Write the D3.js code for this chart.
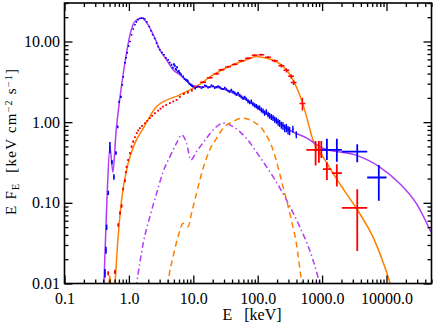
<!DOCTYPE html>
<html>
<head>
<meta charset="utf-8">
<script src="https://cdn.jsdelivr.net/npm/d3@7"></script>
<style>
body { margin: 0; background: #fff; }
svg text { font-family: "Liberation Serif", "Times New Roman", serif; fill: #000; }
</style>
</head>
<body>
<svg id="chart" width="436" height="327"></svg>
<script>
// axis ranges and ticks
const xDomain = [0.1, 50000]
const yDomain = [0.01, 30]
const xMajor = [0.1, 1, 10, 100, 1000, 10000]
const xLabels = ['0.1', '1.0', '10.0', '100.0', '1000.0', '10000.0']
const yMajor = [0.01, 0.1, 1, 10]
const yLabels = ['0.01', '0.10', '1.00', '10.00']

// model curves [E keV, E F_E]
const modelPurple = [
  [0.40, 0.006], [0.41, 0.0102], [0.456, 0.109], [0.507, 0.49], [0.565, 0.24], [0.63, 0.74],
  [0.725, 2.0], [0.867, 5.45], [1.04, 12.1], [1.24, 17.7], [1.57, 19.5], [1.99, 16.1],
  [2.53, 11.0], [3.02, 7.9], [3.84, 5.93], [4.86, 4.46], [6.17, 3.87], [7.82, 3.25],
  [9.9, 2.82], [12.6, 2.74], [20, 2.74], [36.8, 2.4], [66.8, 1.89], [120, 1.35],
  [219, 0.98], [349, 0.76], [569, 0.64], [1030, 0.475], [3390, 0.39], [7780, 0.28],
  [15850, 0.175], [28700, 0.0998], [49000, 0.0435]
]
const modelOrange = [
  [0.59, 0.008], [0.607, 0.01], [0.675, 0.035], [0.77, 0.109], [0.975, 0.31], [1.24, 0.55],
  [1.67, 0.84], [2.69, 1.56], [6.17, 2.18], [11.2, 2.77], [20.3, 3.86], [41.4, 5.14],
  [66.8, 5.93], [95.5, 6.51], [136, 6.22], [195, 5.65], [279, 4.46], [353, 3.35],
  [448, 2.18], [535, 1.42], [640, 0.84], [720, 0.60], [1030, 0.374], [1470, 0.233],
  [2370, 0.131], [3810, 0.0743], [6130, 0.0381], [11400, 0.01], [13000, 0.007]
]
const modelOrangeEdge = [[0.48, 0.008], [0.505, 0.0125], [0.53, 0.008]]
const compPurple = [
  [1.2, 0.006], [1.32, 0.01], [1.67, 0.0316], [2.12, 0.0675], [2.69, 0.131], [3.41, 0.244],
  [4.33, 0.374], [5.5, 0.55], [6.57, 0.695], [7.85, 0.55], [9.15, 0.34], [11.2, 0.43],
  [16.0, 0.63], [21.5, 0.84], [29, 0.97], [41.4, 0.88], [66.8, 0.63], [107, 0.374],
  [173, 0.211], [279, 0.109], [448, 0.0507], [640, 0.026], [861, 0.0121], [931, 0.0095]
]
const compOrange = [
  [3.9, 0.007], [4.07, 0.01], [4.86, 0.0215], [5.81, 0.0381], [6.95, 0.0558], [8.3, 0.0507],
  [9.38, 0.0743], [11.2, 0.131], [14.2, 0.268], [18.0, 0.453], [22.9, 0.63], [29, 0.84],
  [41.4, 1.02], [59.2, 1.12], [84.5, 1.02], [121, 0.80], [173, 0.453], [247, 0.159],
  [333, 0.0614], [398, 0.0316], [476, 0.011], [490, 0.0093]
]

// data points [E, E F_E, fractional error]
const blueSoft = [
  [0.425, 0.0135, 0.12], [0.44, 0.026, 0.1], [0.451, 0.050, 0.08], [0.478, 0.133, 0.06],
  [0.507, 0.49, 0.16], [0.545, 0.32, 0.06], [0.585, 0.21, 0.08], [0.63, 0.416, 0.05],
  [0.668, 0.875, 0.04], [0.707, 1.79, 0.03], [0.751, 2.06, 0.03], [0.79, 2.9, 0.02],
  [0.817, 3.65, 0.02], [0.867, 5.45, 0.02], [0.9, 6.3, 0.02], [0.941, 7.24, 0.02],
  [0.99, 8.8, 0.02], [1.04, 10.0, 0.015], [1.1, 12.1, 0.015], [1.17, 14.3, 0.015],
  [1.24, 16.1, 0.015], [1.31, 17.5, 0.015], [1.39, 18.6, 0.015], [1.48, 19.3, 0.015],
  [1.57, 19.5, 0.015], [1.67, 19.4, 0.015], [1.77, 19.0, 0.015], [1.9, 17.6, 0.015],
  [2.07, 15.3, 0.015], [2.2, 13.6, 0.015], [2.33, 12.1, 0.015], [2.5, 10.9, 0.015],
  [2.69, 9.55, 0.015], [2.85, 8.6, 0.015], [3.02, 7.9, 0.015], [3.25, 7.3, 0.02],
  [3.49, 6.84, 0.02], [3.75, 6.3, 0.02], [4.07, 5.93, 0.02], [4.3, 5.5, 0.02],
  [4.59, 5.14, 0.03], [4.81, 4.72, 0.03], [5.0, 5.2, 0.03], [5.17, 5.0, 0.03],
  [5.3, 4.6, 0.03], [5.45, 4.46, 0.03], [5.6, 4.8, 0.03], [5.75, 4.21, 0.03],
  [5.95, 4.3, 0.03], [6.17, 4.06, 0.03], [6.5, 3.9, 0.03], [6.95, 3.68, 0.03],
  [7.3, 3.45, 0.03], [7.65, 3.35, 0.03], [8.0, 3.3, 0.03], [8.3, 3.19, 0.03],
  [8.7, 3.0, 0.03], [9.15, 2.9, 0.03], [9.5, 2.84, 0.03], [9.9, 2.77, 0.03], [10.7, 2.62, 0.03]
]
const blueHard = [
  [11.3, 2.70, 0.02], [12.0, 2.78, 0.02], [12.6, 2.74, 0.02], [13.4, 2.64, 0.02],
  [14.2, 2.70, 0.02], [15.1, 2.85, 0.025], [16.0, 2.80, 0.025], [17.0, 2.68, 0.025],
  [18.0, 2.74, 0.025], [19.1, 2.86, 0.025], [20.3, 2.80, 0.025], [21.5, 2.66, 0.03],
  [22.9, 2.72, 0.03], [24.3, 2.78, 0.03], [25.8, 2.70, 0.03], [27.4, 2.60, 0.03],
  [29.0, 2.58, 0.03], [30.8, 2.66, 0.035], [32.7, 2.55, 0.035], [34.7, 2.44, 0.035],
  [36.8, 2.40, 0.035], [39.0, 2.50, 0.04], [41.4, 2.38, 0.04], [44.0, 2.30, 0.04],
  [46.6, 2.20, 0.04], [49.5, 2.28, 0.045], [52.6, 2.15, 0.045], [55.8, 2.06, 0.045],
  [59.2, 1.98, 0.05], [62.9, 2.02, 0.05], [66.8, 1.92, 0.05], [70.9, 1.82, 0.055],
  [75.2, 1.76, 0.055], [79.8, 1.80, 0.06], [84.5, 1.68, 0.06], [89.9, 1.62, 0.06],
  [95.5, 1.58, 0.065], [101, 1.52, 0.065], [107, 1.50, 0.07], [114, 1.42, 0.07],
  [121, 1.38, 0.07], [128, 1.30, 0.075], [136, 1.34, 0.075], [145, 1.25, 0.08],
  [153, 1.20, 0.08], [163, 1.16, 0.085], [173, 1.13, 0.085], [184, 1.08, 0.09],
  [195, 1.05, 0.09], [207, 1.00, 0.1], [219, 0.97, 0.1], [233, 0.92, 0.1],
  [247, 0.90, 0.11], [263, 0.84, 0.11], [279, 0.85, 0.12], [296, 0.80, 0.12],
  [313, 0.78, 0.12], [352, 0.82, 0.1], [398, 0.70, 0.1]
]
const redSoft = [
  [0.478, 0.0134, 0.06], [0.607, 0.014, 0.06], [0.683, 0.0532, 0.05], [0.73, 0.075, 0.05],
  [0.77, 0.0916, 0.05], [0.817, 0.148, 0.04], [0.867, 0.188, 0.04], [0.9, 0.24, 0.03],
  [0.921, 0.279, 0.03], [0.975, 0.34, 0.03], [1.04, 0.412, 0.03], [1.1, 0.498, 0.03],
  [1.17, 0.574, 0.03], [1.24, 0.65, 0.02], [1.32, 0.731, 0.02], [1.4, 0.79, 0.02],
  [1.48, 0.84, 0.02], [1.6, 0.9, 0.02], [1.77, 0.97, 0.02], [1.93, 1.04, 0.02],
  [2.12, 1.12, 0.02], [2.3, 1.2, 0.02], [2.53, 1.29, 0.02], [2.85, 1.39, 0.02],
  [3.1, 1.47, 0.02], [3.4, 1.56, 0.02], [3.8, 1.63, 0.02], [4.33, 1.72, 0.02],
  [4.9, 1.8, 0.02], [5.5, 1.89, 0.02], [6.17, 2.06, 0.02], [7.12, 2.24, 0.03],
  [8.22, 2.34, 0.03], [9.48, 2.48, 0.03]
]
const redHard = [
  [11.2, 2.74, 0.03], [14.2, 3.12, 0.03], [18.0, 3.55, 0.03], [22.9, 3.97, 0.03],
  [27.4, 4.46, 0.03], [34.6, 4.85, 0.03], [44, 5.21, 0.03], [55.8, 5.77, 0.03],
  [70.8, 6.19, 0.03], [89.8, 6.75, 0.03], [114, 6.84, 0.03], [144.5, 6.37, 0.03],
  [184, 5.77, 0.04], [233, 5.0, 0.05], [279, 4.4, 0.06], [330, 3.7, 0.06],
  [361, 3.1, 0.07], [495, 1.70, 0.18]
]
// high-energy bins [E, Elo, Ehi, F, Flo, Fhi]
const blueBig = [
  [1187, 972, 1419, 0.453, 0.34, 0.621],
  [1695, 1419, 2028, 0.453, 0.324, 0.621],
  [3514, 2028, 5020, 0.431, 0.319, 0.533],
  [7600, 5020, 10000, 0.206, 0.106, 0.295]
]
const redBig = [
  [793, 569, 974, 0.453, 0.29, 0.586],
  [892, 742, 1067, 0.453, 0.313, 0.586],
  [972, 793, 1360, 0.453, 0.36, 0.586],
  [1187, 1030, 1390, 0.261, 0.192, 0.319],
  [1695, 1419, 2028, 0.233, 0.159, 0.301],
  [3514, 2028, 5020, 0.0865, 0.0253, 0.1476]
]

const purple = '#b03cf5'
const orange = '#ff8000'
const blue = '#0000ff'
const red = '#ff0000'

const svg = d3.select('svg#chart')
const pLeft = 64.5, pRight = 431.5, pTop = 3, pBottom = 283.5

const x = d3.scaleLog().domain(xDomain).range([pLeft, pRight])
const y = d3.scaleLog().domain(yDomain).range([pBottom, pTop])

svg.append('defs').append('clipPath').attr('id', 'plot')
  .append('rect').attr('x', pLeft).attr('y', pTop)
  .attr('width', pRight - pLeft).attr('height', pBottom - pTop)

const plot = svg.append('g').attr('clip-path', 'url(#plot)')

const line = d3.line()
  .x(d => x(d[0]))
  .y(d => y(d[1]))
  .curve(d3.curveMonotoneX)

function curve(data, color, dash) {
  plot.append('path')
    .datum(data)
    .attr('d', line)
    .attr('fill', 'none')
    .attr('stroke', color)
    .attr('stroke-width', 1.5)
    .attr('stroke-dasharray', dash)
}

curve(compPurple, purple, '6,3,1.5,3')
curve(compOrange, orange, '6,4')
curve(modelOrangeEdge, orange, null)
curve(modelOrange, orange, null)
curve(modelPurple, purple, null)

// small error crosses, dex = half bin width in decades
function points(data, color, dex, sw) {
  const g = plot.append('g').attr('stroke', color).attr('stroke-width', sw)
  g.selectAll('.h').data(data).enter().append('line')
    .attr('x1', d => x(d[0] / Math.pow(10, dex)))
    .attr('x2', d => x(d[0] * Math.pow(10, dex)))
    .attr('y1', d => y(d[1])).attr('y2', d => y(d[1]))
  g.selectAll('.v').data(data).enter().append('line')
    .attr('x1', d => x(d[0])).attr('x2', d => x(d[0]))
    .attr('y1', d => y(d[1] * (1 - d[2])))
    .attr('y2', d => y(d[1] * (1 + d[2])))
}

function bigPoints(data, color) {
  const g = plot.append('g').attr('stroke', color).attr('stroke-width', 1.8)
  g.selectAll('.h').data(data).enter().append('line')
    .attr('x1', d => x(d[1])).attr('x2', d => x(d[2]))
    .attr('y1', d => y(d[3])).attr('y2', d => y(d[3]))
  g.selectAll('.v').data(data).enter().append('line')
    .attr('x1', d => x(d[0])).attr('x2', d => x(d[0]))
    .attr('y1', d => y(d[4])).attr('y2', d => y(d[5]))
}

points(redSoft, red, 0.012, 1.6)
points(redHard, red, 0.045, 1.4)
points(blueSoft, blue, 0.008, 1.6)
points(blueHard, blue, 0.012, 1.4)
bigPoints(redBig, red)
bigPoints(blueBig, blue)

// axes
const xMinor = x.ticks().filter(v => !xMajor.some(m => Math.abs(m - v) / m < 1e-6))
const yMinor = y.ticks().filter(v => !yMajor.some(m => Math.abs(m - v) / m < 1e-6))

function axis(gen, tr, values, size, labels, pad) {
  const g = svg.append('g').attr('transform', tr)
    .call(gen.tickValues(values).tickSize(size).tickSizeOuter(0).tickPadding(pad)
      .tickFormat((d, i) => labels ? labels[i] : ''))
  g.select('.domain').remove()
  g.selectAll('line').attr('stroke', '#000').attr('stroke-width', 1.3)
  g.selectAll('text').attr('font-size', 16).attr('font-family', '"Liberation Serif", serif')
  return g
}

axis(d3.axisBottom(x), `translate(0,${pBottom})`, xMajor, -8, xLabels, 9)
axis(d3.axisBottom(x), `translate(0,${pBottom})`, xMinor, -4, null, 9)
axis(d3.axisTop(x), `translate(0,${pTop})`, xMajor, -8, null, 3)
axis(d3.axisTop(x), `translate(0,${pTop})`, xMinor, -4, null, 3)
axis(d3.axisLeft(y), `translate(${pLeft},0)`, yMajor, -8, yLabels, 4.5)
axis(d3.axisLeft(y), `translate(${pLeft},0)`, yMinor, -4, null, 4.5)
axis(d3.axisRight(y), `translate(${pRight},0)`, yMajor, -8, null, 3)
axis(d3.axisRight(y), `translate(${pRight},0)`, yMinor, -4, null, 3)

svg.append('rect')
  .attr('x', pLeft).attr('y', pTop)
  .attr('width', pRight - pLeft).attr('height', pBottom - pTop)
  .attr('fill', 'none').attr('stroke', '#000').attr('stroke-width', 1.6)

// axis titles
svg.append('text')
  .attr('x', 222.5).attr('y', 320)
  .attr('font-size', 16)
  .style('white-space', 'pre')
  .text('E   [keV]')

const yt = svg.append('text')
  .attr('transform', 'translate(16,142) rotate(-90)')
  .attr('text-anchor', 'middle')
  .attr('font-size', 15)
  .attr('textLength', 146)
  .attr('lengthAdjust', 'spacing')
  .style('white-space', 'pre')
yt.append('tspan').text('E F')
yt.append('tspan').attr('font-size', 10).attr('dy', 3).text('E')
yt.append('tspan').attr('dy', -3).text('  [keV cm')
yt.append('tspan').attr('font-size', 10).attr('dy', -4.5).text('\u22122')
yt.append('tspan').attr('dy', 4.5).text(' s')
yt.append('tspan').attr('font-size', 10).attr('dy', -4.5).text('\u22121')
yt.append('tspan').attr('dy', 4.5).text(']')
</script>
</body>
</html>
